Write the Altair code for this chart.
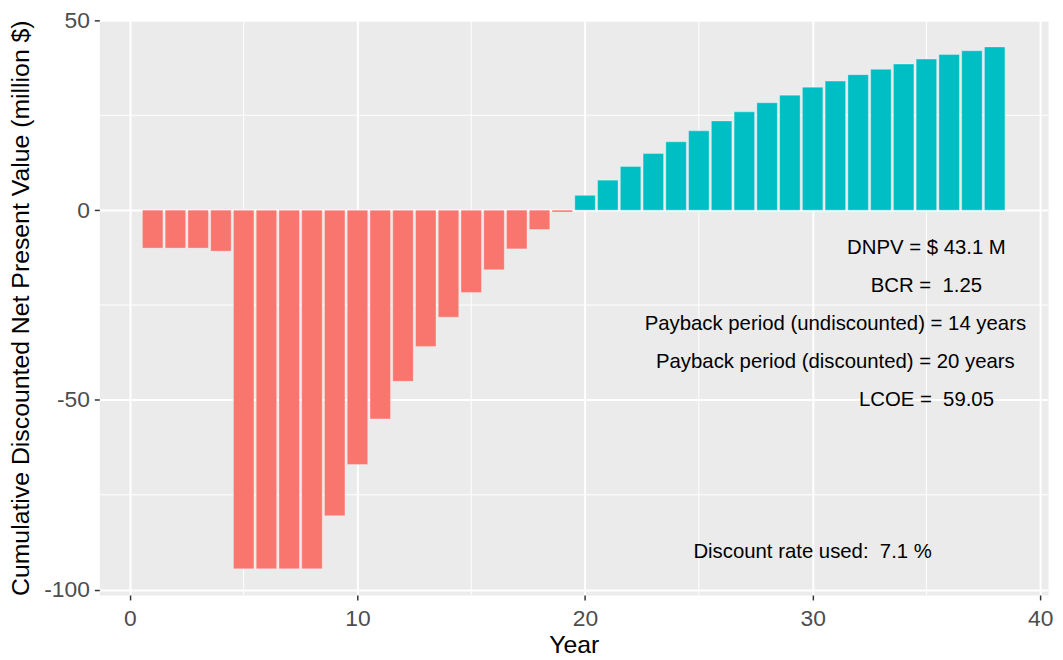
import altair as alt
import pandas as pd

# ---- data ----
years = list(range(1, 39))
dnpv = [-10.0, -10.0, -10.0, -10.8, -94.5, -94.5, -94.5, -94.5, -80.5, -67.0,
        -55.0, -45.1, -35.9, -28.2, -21.7, -15.7, -10.2, -5.1, -0.5,
        3.9, 7.9, 11.5, 14.9, 18.0, 20.9, 23.5, 25.9, 28.3, 30.3, 32.4,
        34.0, 35.7, 37.1, 38.5, 39.8, 41.0, 42.0, 43.0]

ann_x = [35, 35, 31, 31, 35, 30]
ann_y = [-10, -20, -30, -40, -50, -90]
ann_text = ["DNPV = $ 43.1 M",
            "BCR = \u00a01.25",
            "Payback period (undiscounted) = 14 years",
            "Payback period (discounted) = 20 years",
            "LCOE = \u00a059.05",
            "Discount rate used: \u00a07.1 %"]

x_ticks = [0, 10, 20, 30, 40]
y_ticks = [-100, -50, 0, 50]
x_minor = [5, 15, 25, 35]
y_minor = [-75, -25, 25]

FONT = "Liberation Sans"

df = pd.DataFrame({"year": years, "dnpv": dnpv})
ann = pd.DataFrame({"tx": ann_x, "ty": ann_y, "label": ann_text})
xm = pd.DataFrame({"v": x_minor})
ym = pd.DataFrame({"v": y_minor})

xscale = alt.Scale(domain=[-1.345, 40.345], nice=False, zero=False)
yscale = alt.Scale(domain=[-101.4, 50.0], nice=False, zero=False)

xaxis = alt.Axis(values=x_ticks, title="Year", grid=True, gridColor="white",
                 gridWidth=2, domain=False, tickColor="#333333", tickSize=5,
                 tickWidth=1.5, labelFontSize=23, labelColor="#4D4D4D",
                 labelFont=FONT, titleFont=FONT, titleFontSize=25,
                 titleColor="black", titleFontWeight="normal",
                 labelPadding=8, titlePadding=2,
                 labelExpr="datum.value + ''")
yaxis = alt.Axis(values=y_ticks, title="Cumulative Discounted Net Present Value (million $)",
                 grid=True, gridColor="white", gridWidth=2, domain=False,
                 tickColor="#333333", tickSize=5, tickWidth=1.5,
                 labelFontSize=23, labelColor="#4D4D4D", labelFont=FONT,
                 titleFont=FONT, titleFontSize=25, titleColor="black",
                 titleFontWeight="normal", labelPadding=5, titleX=-66,
                 labelExpr="datum.value + ''")

vminor = alt.Chart(xm).mark_rule(color="white", strokeWidth=1).encode(
    x=alt.X("v:Q", scale=xscale, axis=xaxis))
hminor = alt.Chart(ym).mark_rule(color="white", strokeWidth=1).encode(
    y=alt.Y("v:Q", scale=yscale, axis=yaxis))

bars = alt.Chart(df).transform_calculate(
    x0="datum.year - 0.45",
    x1="datum.year + 0.45",
    sign="datum.dnpv < 0 ? 'neg' : 'pos'",
).mark_rect(stroke="white", strokeWidth=0.7, strokeOpacity=0.45).encode(
    x=alt.X("x0:Q", scale=xscale, axis=xaxis),
    x2="x1:Q",
    y=alt.Y("dnpv:Q", scale=yscale, axis=yaxis),
    y2=alt.datum(0),
    color=alt.Color("sign:N",
                    scale=alt.Scale(domain=["neg", "pos"], range=["#F8766D", "#00BFC4"]),
                    legend=None),
)

texts = alt.Chart(ann).mark_text(font=FONT, fontSize=20.5, color="black",
                                 align="center", baseline="middle").encode(
    x=alt.X("tx:Q", scale=xscale, axis=xaxis),
    y=alt.Y("ty:Q", scale=yscale, axis=yaxis),
    text="label:N",
)

chart = alt.layer(vminor, hminor, bars, texts).properties(
    width=956, height=579,
    padding={"left": 92, "top": 10, "right": 7, "bottom": 60},
    autosize=alt.AutoSizeParams(type="none"),
).configure_view(fill="#EBEBEB", stroke="transparent")

chart.save("out.html", embed_options={"renderer": "svg", "actions": False})
